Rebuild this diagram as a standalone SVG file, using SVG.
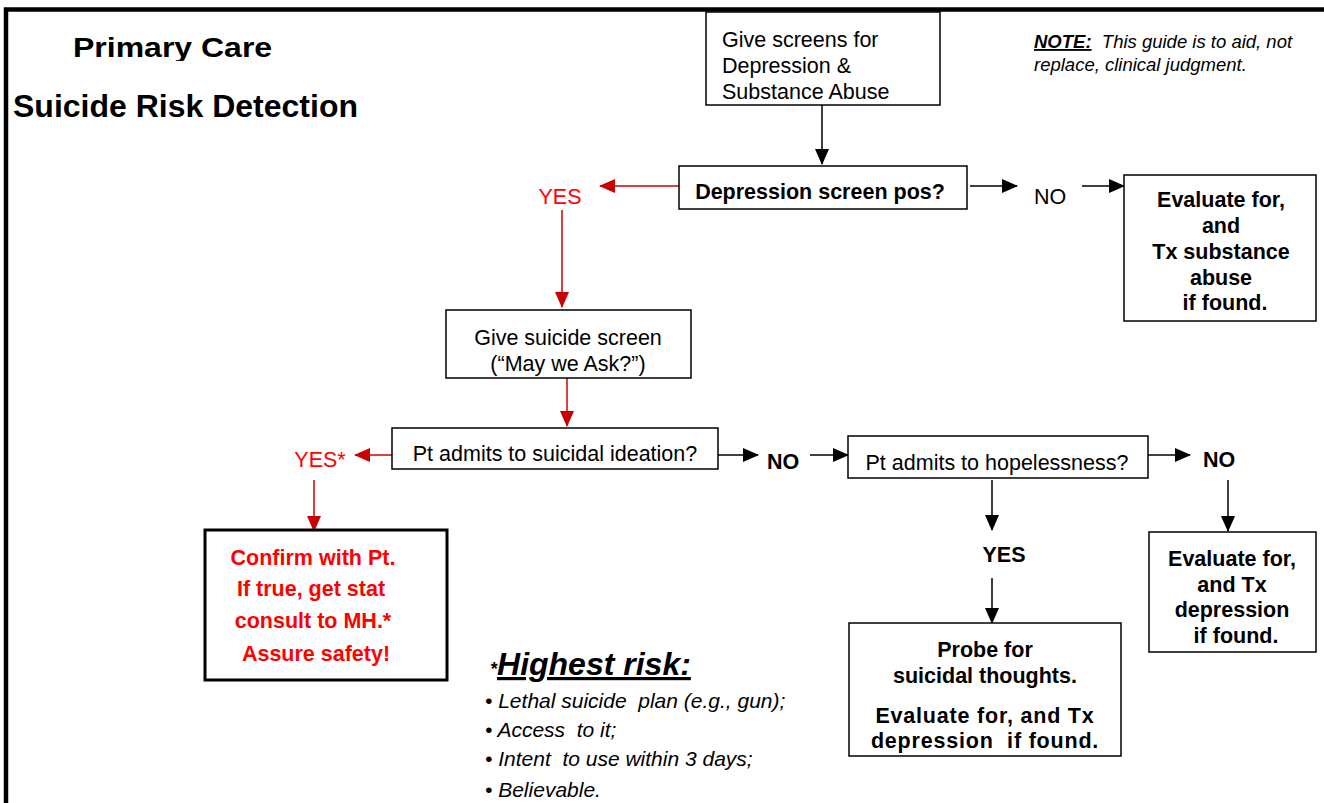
<svg xmlns="http://www.w3.org/2000/svg" width="1324" height="803" viewBox="0 0 1324 803">
<style>
  text { font-family: "Liberation Sans", Arial, sans-serif; }
  .box { fill: #ffffff; stroke: #000000; stroke-width: 1.5; }
  .boxk { fill: #ffffff; stroke: #000000; stroke-width: 3; }
  .reg { font-size: 21.5px; fill: #000; }
  .bold { font-size: 21.5px; font-weight: bold; fill: #000; }
  .red { fill: #ff0000; }
  .c { text-anchor: middle; }
  .blk { stroke: #000; stroke-width: 1.5; fill: none; }
  .rd { stroke: #cc0000; stroke-width: 1.5; fill: none; }
  .note { font-size: 18.5px; font-style: italic; fill: #000; }
  .bul { font-size: 21px; font-style: italic; fill: #000; }
</style>
<defs>
  <marker id="ab" markerWidth="16" markerHeight="14" refX="15" refY="7" orient="auto" markerUnits="userSpaceOnUse">
    <path d="M0,0 L16,7 L0,14 Z" fill="#000"/>
  </marker>
  <marker id="ar" markerWidth="16" markerHeight="14" refX="15" refY="7" orient="auto" markerUnits="userSpaceOnUse">
    <path d="M0,0 L16,7 L0,14 Z" fill="#cc0000"/>
  </marker>
  <clipPath id="clipTitle"><rect x="0" y="0" width="400" height="61"/></clipPath>
</defs>
<rect width="1324" height="803" fill="#ffffff"/>
<!-- frame -->
<path d="M6,803 L6,9.5 L1324,9.5" fill="none" stroke="#000" stroke-width="4.5"/>

<g id="title">
  <g clip-path="url(#clipTitle)">
    <text x="73" y="57" font-size="32" font-weight="bold" transform="translate(0,57) scale(1,0.86) translate(0,-57)">Primary Care</text>
  </g>
  <text x="13" y="117" font-size="32" font-weight="bold">Suicide Risk Detection</text>
</g>

<g id="note">
  <text x="1034" y="48" class="note" xml:space="preserve"><tspan font-weight="bold" text-decoration="underline">NOTE:</tspan>  This guide is to aid, not</text>
  <text x="1034" y="71" class="note">replace, clinical judgment.</text>
</g>

<g id="connectors">
  <line x1="822" y1="105" x2="822" y2="164" class="blk" marker-end="url(#ab)"/>
  <line x1="679" y1="186" x2="600" y2="186" class="rd" marker-end="url(#ar)"/>
  <line x1="562" y1="210" x2="562" y2="307" class="rd" marker-end="url(#ar)"/>
  <line x1="970" y1="186" x2="1017" y2="186" class="blk" marker-end="url(#ab)"/>
  <line x1="1082" y1="186" x2="1124" y2="186" class="blk" marker-end="url(#ab)"/>
  <line x1="567" y1="378" x2="567" y2="426" class="rd" marker-end="url(#ar)"/>
  <line x1="392" y1="455" x2="355" y2="455" class="rd" marker-end="url(#ar)"/>
  <line x1="314" y1="480" x2="314" y2="531" class="rd" marker-end="url(#ar)"/>
  <line x1="718" y1="455" x2="758" y2="455" class="blk" marker-end="url(#ab)"/>
  <line x1="810" y1="455" x2="848" y2="455" class="blk" marker-end="url(#ab)"/>
  <line x1="1148" y1="455" x2="1190" y2="455" class="blk" marker-end="url(#ab)"/>
  <line x1="1228" y1="480" x2="1228" y2="531" class="blk" marker-end="url(#ab)"/>
  <line x1="992" y1="480" x2="992" y2="530" class="blk" marker-end="url(#ab)"/>
  <line x1="992" y1="578" x2="992" y2="623" class="blk" marker-end="url(#ab)"/>
</g>

<g id="labels">
  <text x="560" y="204" class="reg red c">YES</text>
  <text x="1050" y="204" class="reg c">NO</text>
  <text x="320" y="467" class="reg red c">YES*</text>
  <text x="783" y="469" class="bold c">NO</text>
  <text x="1219" y="467" class="bold c">NO</text>
  <text x="1004" y="562" class="bold c">YES</text>
</g>

<g id="n_screens">
  <rect x="706" y="12" width="234" height="93" class="box"/>
  <text x="722" class="reg"><tspan x="722" y="47">Give screens for</tspan><tspan x="722" y="73">Depression &amp;</tspan><tspan x="722" y="99">Substance Abuse</tspan></text>
</g>

<g id="n_dep">
  <rect x="679" y="166" width="288" height="43" class="box"/>
  <text x="820" y="199" class="bold c">Depression screen pos?</text>
</g>

<g id="n_subst">
  <rect x="1124" y="175" width="192" height="146" class="box"/>
  <text class="bold c"><tspan x="1221" y="207">Evaluate for,</tspan><tspan x="1221" y="233">and</tspan><tspan x="1221" y="259">Tx substance</tspan><tspan x="1221" y="285">abuse</tspan><tspan x="1225" y="310">if found.</tspan></text>
</g>

<g id="n_suicide_screen">
  <rect x="446" y="310" width="245" height="68" class="box"/>
  <text class="reg c"><tspan x="568" y="345">Give suicide screen</tspan><tspan x="568" y="371">(“May we Ask?”)</tspan></text>
</g>

<g id="n_ideation">
  <rect x="392" y="428" width="326" height="41" class="box"/>
  <text x="555" y="461" class="reg c">Pt admits to suicidal ideation?</text>
</g>

<g id="n_confirm">
  <rect x="205" y="530" width="242" height="150" class="boxk"/>
  <text class="bold red c" font-size="20.5"><tspan x="313" y="565">Confirm with Pt.</tspan><tspan x="311" y="596">If true, get stat</tspan><tspan x="313" y="628">consult to MH.*</tspan><tspan x="316" y="661">Assure safety!</tspan></text>
</g>

<g id="n_hopeless">
  <rect x="848" y="436" width="300" height="42" class="box"/>
  <text x="997" y="470" class="reg c">Pt admits to hopelessness?</text>
</g>

<g id="n_evaldep">
  <rect x="1149" y="532" width="167" height="120" class="box"/>
  <text class="bold c"><tspan x="1232" y="566">Evaluate for,</tspan><tspan x="1232" y="592">and Tx</tspan><tspan x="1232" y="617">depression</tspan><tspan x="1236" y="643">if found.</tspan></text>
</g>

<g id="n_probe">
  <rect x="849" y="623" width="272" height="133" class="box"/>
  <text class="bold c"><tspan x="985" y="657">Probe for</tspan><tspan x="985" y="683">suicidal thoughts.</tspan></text>
  <text class="bold c" letter-spacing="0.8" xml:space="preserve"><tspan x="985" y="723">Evaluate for, and Tx</tspan><tspan x="985" y="748">depression  if found.</tspan></text>
</g>

<g id="highest_risk">
  <text x="490" y="675" font-weight="bold" font-style="italic"><tspan font-size="18">*</tspan><tspan font-size="32" text-decoration="underline">Highest risk:</tspan></text>
  <text x="485" y="708" class="bul" xml:space="preserve">• Lethal suicide  plan (e.g., gun);</text>
  <text x="485" y="737" class="bul" xml:space="preserve">• Access  to it;</text>
  <text x="485" y="766" class="bul" xml:space="preserve">• Intent  to use within 3 days;</text>
  <text x="485" y="797" class="bul">• Believable.</text>
</g>
</svg>
